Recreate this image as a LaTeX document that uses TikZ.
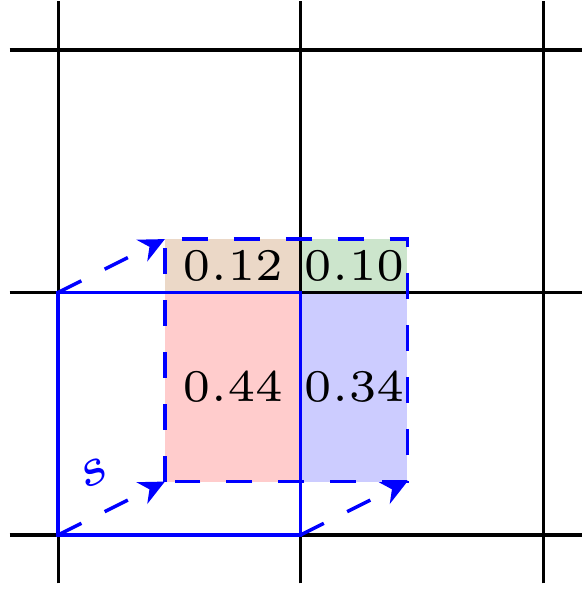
\documentclass[tikz,border=0pt]{standalone}
\usetikzlibrary{arrows.meta}
\definecolor{mygreen}{RGB}{204,229,204}
\definecolor{mytan}{RGB}{235,216,199}
\begin{document}
\begin{tikzpicture}[x=2.2cm,y=2.2cm,
  gridline/.style={black,line width=0.85pt},
  cellbox/.style={solid,blue,line width=0.9pt},
  shiftbox/.style={blue,line width=0.9pt,dash pattern=on 6.7pt off 6.7pt},
  shiftarrow/.style={blue,line width=0.9pt,dash pattern=on 6.7pt off 6.7pt,-{Stealth[length=6.6pt,width=6.2pt]}},
  val/.style={inner sep=0pt,font=\fontsize{6}{7}\selectfont,scale=1.95}]
\clip (-0.24,-0.223) rectangle (2.16,2.206);
% coordinates
\coordinate (A) at (0,0);
\coordinate (B) at (1,0);
\coordinate (C) at (1,1);
\coordinate (D) at (0,1);
\coordinate (A2) at (0.44,0.22);
\coordinate (B2) at (1.44,0.22);
\coordinate (C2) at (1.44,1.22);
\coordinate (D2) at (0.44,1.22);
% fills
\fill[mytan] (0.44,1) rectangle (1,1.22);
\fill[mygreen] (1,1) rectangle (1.44,1.22);
\fill[red!20] (0.44,0.22) rectangle (1,1);
\fill[blue!20] (1,0.22) rectangle (1.44,1);
% values
\node[val] (v12) at (0.72,1.11) {$0.12$};
\node[val] (v10) at (1.22,1.11) {$0.10$};
\node[val] (v44) at (0.72,0.61) {$0.44$};
\node[val] (v34) at (1.22,0.61) {$0.34$};
% grid
\foreach \i in {0,1,2} {
  \draw[gridline] (\i,-0.2) -- (\i,2.2);
  \draw[gridline] (-0.2,\i) -- (2.2,\i);
}
% solid cell
\draw[cellbox] (A) -- (B) -- (C) -- (D) -- cycle;
% shifted cell
\draw[shiftbox] (A2) -- (D2) -- (C2) -- (B2) -- cycle;
% arrows
\draw[shiftarrow] (A) -- (A2);
\draw[shiftarrow] (D) -- (D2);
\draw[shiftarrow] (B) -- (B2);
\node[val,text=blue,rotate=26.57,scale=1.2] (slab) at (0.144,0.257) {$s$};
\end{tikzpicture}
\end{document}
